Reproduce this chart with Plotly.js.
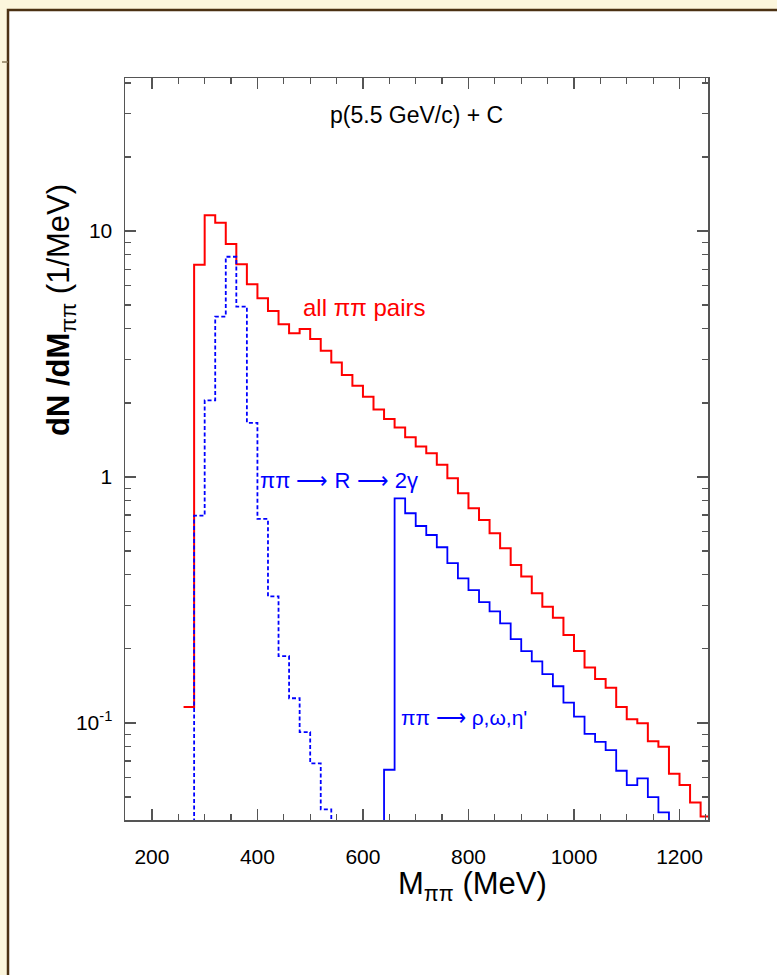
<!DOCTYPE html>
<html>
<head>
<meta charset="utf-8">
<script src="https://cdn.plot.ly/plotly-3.0.1.min.js"></script>
<style>
  html, body { margin: 0; padding: 0; background: #fcf6dc; }
  #chart { width: 777px; height: 975px; }
</style>
</head>
<body>
<div id="chart"></div>
<script>
// ---- data (20 MeV bins, lower bin edges in MeV; values in 1/MeV) ----
const FLOOR = 1e-3; // "below the axis" (bin empty / off scale)

const redBinLow = [260,280,300,320,340,360,380,400,420,440,460,480,500,520,540,560,580,600,620,640,
                   660,680,700,720,740,760,780,800,820,840,860,880,900,920,940,960,980,1000,1020,1040,
                   1060,1080,1100,1120,1140,1160,1180,1200,1220,1240];
const redValues = [0.116,7.3,11.6,10.8,8.85,7.32,6.07,5.33,4.73,4.18,3.84,4.0,3.64,3.26,2.92,2.60,2.35,2.12,1.88,1.72,
                   1.59,1.45,1.33,1.25,1.12,0.988,0.858,0.746,0.669,0.590,0.513,0.439,0.394,0.337,0.297,0.268,0.228,0.196,0.168,0.151,
                   0.139,0.116,0.1035,0.0996,0.0843,0.0800,0.0621,0.0559,0.0475,0.0416];
const redUpperEdge = 1260;

const resBinLow = [260,280,300,320,340,360,380,400,420,440,460,480,500,520,540];
const resValues = [FLOOR,0.696,2.05,4.49,7.86,4.93,1.66,0.675,0.327,0.187,0.126,0.0918,0.0685,0.0445,FLOOR];

const vecBinLow = [620,640,660,680,700,720,740,760,780,800,820,840,860,880,900,920,940,960,980,1000,
                   1020,1040,1060,1080,1100,1120,1140,1160,1180];
const vecValues = [FLOOR,0.0645,0.819,0.712,0.632,0.581,0.518,0.446,0.387,0.347,0.310,0.284,0.254,0.219,0.196,0.178,0.158,0.141,0.121,0.106,
                   0.0903,0.0838,0.0775,0.0639,0.0559,0.0595,0.0499,0.0433,FLOOR];

const xTickVals = [200,400,600,800,1000,1200];
const xTickText = ['200','400','600','800','1000','1200'];
const yTickVals = [0.1,1,10];
const yTickText = ['10<sup>-1</sup>','1','10'];

// ---- layout helpers (pixel -> paper) ----
const W = 777, H = 975;
const L = 125, R = 708, T = 78, B = 820;
const px = x => (x - L) / (R - L);
const py = y => (B - y) / (B - T);

const xMinor = [];
for (let v = 150; v <= 1250; v += 50) if (v % 200 !== 0) xMinor.push(v);
const yMinor = [];
[0.01,0.1,1,10].forEach(d => { for (let k = 2; k <= 9; k++) yMinor.push(+(k*d).toPrecision(3)); });

const FONT = 'Liberation Sans, Arial, Helvetica, sans-serif';
const RED = 'rgb(255,0,0)', BLUE = 'rgb(0,0,255)';

const traces = [
  { x: redBinLow.concat([redUpperEdge]), y: redValues.concat([redValues[redValues.length-1]]),
    mode: 'lines', line: { shape: 'hv', color: RED, width: 2 }, hoverinfo: 'skip' },
  { x: resBinLow, y: resValues,
    mode: 'lines', line: { shape: 'hv', color: BLUE, width: 1.8, dash: '4px,2.5px' }, hoverinfo: 'skip' },
  { x: vecBinLow, y: vecValues,
    mode: 'lines', line: { shape: 'hv', color: BLUE, width: 1.8 }, hoverinfo: 'skip' }
];

const axisCommon = {
  showline: true, linecolor: '#555', linewidth: 1.5, mirror: 'ticks',
  ticks: 'inside', ticklen: 11, tickwidth: 1.2, tickcolor: '#555',
  showgrid: false, zeroline: false,
  tickfont: { family: FONT, size: 21, color: '#000' }
};

const layout = {
  width: W, height: H,
  margin: { l: L, r: W - R, t: T, b: H - B, pad: 0 },
  paper_bgcolor: '#fcf6dc',
  plot_bgcolor: 'rgba(0,0,0,0)',
  showlegend: false,
  xaxis: Object.assign({}, axisCommon, {
    range: [149, 1254], tickmode: 'array', tickvals: xTickVals, ticktext: xTickText,
    ticklabelstandoff: 17,
    minor: { tickmode: 'array', tickvals: xMinor, ticks: 'inside', ticklen: 6, tickwidth: 1.2, tickcolor: '#555' }
  }),
  yaxis: Object.assign({}, axisCommon, {
    type: 'log', range: [Math.log10(0.0403), Math.log10(41.9)],
    tickmode: 'array', tickvals: yTickVals, ticktext: yTickText,
    ticklabelstandoff: 7,
    minor: { tickmode: 'array', tickvals: yMinor, ticks: 'inside', ticklen: 6, tickwidth: 1.2, tickcolor: '#555' }
  }),
  shapes: [
    { type: 'rect', xref: 'paper', yref: 'paper', layer: 'below',
      x0: px(8), x1: px(800), y0: py(1000), y1: py(10),
      fillcolor: '#ffffff', line: { color: '#4b3112', width: 2.5 } },
    { type: 'line', xref: 'paper', yref: 'paper', layer: 'below',
      x0: px(2), x1: px(8), y0: py(62), y1: py(62),
      line: { color: '#8a7a5a', width: 1.5 } }
  ],
  annotations: [
    { xref: 'paper', yref: 'paper', x: px(416), y: py(115), xanchor: 'center', yanchor: 'middle', showarrow: false,
      text: 'p(5.5 GeV/c) + C', font: { family: FONT, size: 23, color: '#000' } },
    { xref: 'paper', yref: 'paper', x: px(364), y: py(307), xanchor: 'center', yanchor: 'middle', showarrow: false,
      text: 'all ππ pairs', font: { family: FONT, size: 24, color: RED } },
    { xref: 'paper', yref: 'paper', x: px(339), y: py(480), xanchor: 'center', yanchor: 'middle', showarrow: false,
      text: 'ππ ⟶ R ⟶ 2γ', font: { family: FONT, size: 22, color: BLUE } },
    { xref: 'paper', yref: 'paper', x: px(464), y: py(717), xanchor: 'center', yanchor: 'middle', showarrow: false,
      text: "ππ ⟶ ρ,ω,η'", font: { family: FONT, size: 21, color: BLUE } },
    { xref: 'paper', yref: 'paper', x: px(61), y: py(310), xanchor: 'center', yanchor: 'middle', showarrow: false,
      textangle: -90, text: '<b>dN /dM</b><sub>ππ</sub> (1/MeV)', font: { family: FONT, size: 31, color: '#000' } },
    { xref: 'paper', yref: 'paper', x: px(472), y: py(886), xanchor: 'center', yanchor: 'middle', showarrow: false,
      text: 'M<sub>ππ</sub> (MeV)', font: { family: FONT, size: 31, color: '#000' } }
  ]
};

Plotly.newPlot('chart', traces, layout, { staticPlot: true, displayModeBar: false });
</script>
</body>
</html>
